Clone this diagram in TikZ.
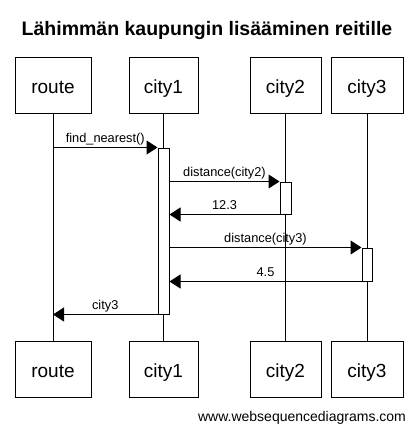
\documentclass[tikz,border=0pt]{standalone}
\usepackage{fontspec}
\setmainfont{Liberation Sans}
\usetikzlibrary{arrows.meta}
\begin{document}
\begin{tikzpicture}[x=1pt,y=-1pt,
  actor/.style={draw=black, line width=1pt, fill=white, minimum height=56pt, inner sep=0pt, text height=16.4pt, text depth=0pt, font=\fontsize{19}{22}\selectfont},
  actbox/.style={draw=black, line width=1pt, fill=white, inner sep=0pt},
  life/.style={line width=1pt},
  msg/.style={line width=1pt, -{Triangle[length=11pt,width=14pt]}},
  lbl/.style={font=\fontsize{12.8}{15}\selectfont, anchor=base, inner sep=0pt, yshift=5pt}
]
\useasboundingbox (0,0) rectangle (417,432);
\node[font=\fontsize{19.5}{23}\selectfont\bfseries] (title) at (207,30) {Lähimmän kaupungin lisääminen reitille};
% top actors
\node[actor, minimum width=76pt] (route) at (53,85) {route};
\node[actor, minimum width=69pt] (city1) at (163.5,85) {city1};
\node[actor, minimum width=71pt] (city2) at (285.5,85) {city2};
\node[actor, minimum width=72pt] (city3) at (367,85) {city3};
% bottom actors
\node[actor, minimum width=76pt] (routeB) at (53,369.5) {route};
\node[actor, minimum width=69pt] (city1B) at (163.5,369.5) {city1};
\node[actor, minimum width=71pt] (city2B) at (285.5,369.5) {city2};
\node[actor, minimum width=72pt] (city3B) at (367,369.5) {city3};
% lifelines
\draw[life] (route.south) -- (routeB.north);
\draw[life] (city1.south) -- (city1B.north);
\draw[life] (city2.south) -- (city2B.north);
\draw[life] (city3.south) -- (city3B.north);
% activations
\node[actbox, minimum width=11pt, minimum height=166pt] (act1) at (163.5,231) {};
\node[actbox, minimum width=11pt, minimum height=32pt] (act2) at (285.5,198) {};
\node[actbox, minimum width=10pt, minimum height=33pt] (act3) at (367,264.5) {};
% messages
\draw[msg] (route.south |- act1.north) -- node[lbl]{find\_nearest()} (act1.north west);
\draw[msg] (act1.east |- act2.north) -- node[lbl]{distance(city2)} (act2.north west);
\draw[msg] (act2.south west) -- node[lbl]{12.3} (act1.east |- act2.south);
\draw[msg] (act1.east |- act3.north) -- node[lbl]{distance(city3)} (act3.north west);
\draw[msg] (act3.south west) -- node[lbl]{4.5} (act1.east |- act3.south);
\draw[msg] (act1.south west) -- node[lbl]{city3} (route.south |- act1.south);
% footer
\node[font=\fontsize{14}{17}\selectfont] (footer) at (302,418) {www.websequencediagrams.com};
\end{tikzpicture}
\end{document}
